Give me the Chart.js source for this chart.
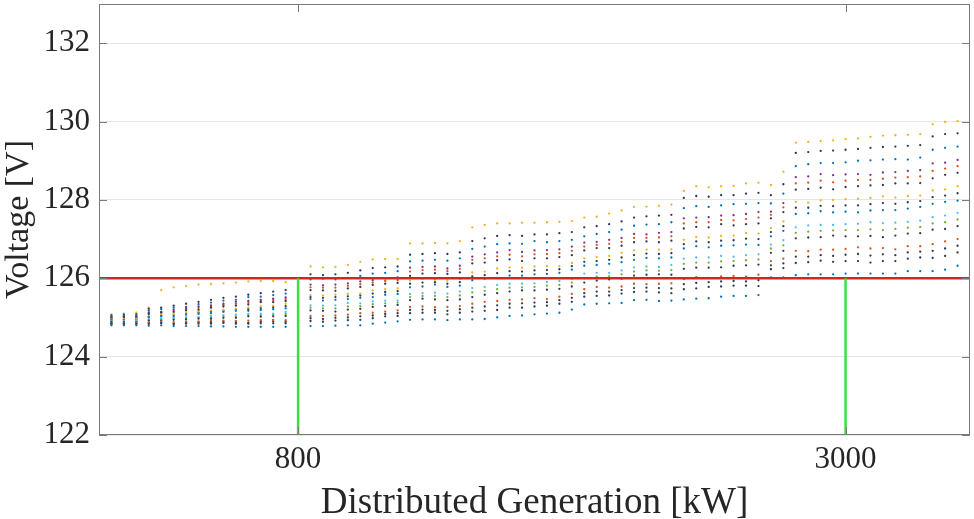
<!DOCTYPE html>
<html>
<head>
<meta charset="utf-8">
<script src="https://cdn.jsdelivr.net/npm/chart.js@4.4.1/dist/chart.umd.min.js"></script>
<style>
  html, body { margin: 0; padding: 0; background: #fff; }
  #chart { display: block; }
</style>
</head>
<body>
<canvas id="chart" width="974" height="519"></canvas>
<script>
// DG size steps (kW)
const genKW = [
  50, 100, 150, 200, 250, 300, 350, 400, 450, 500,
  550, 600, 650, 700, 750, 800, 850, 900, 950, 1000,
  1050, 1100, 1150, 1200, 1250, 1300, 1350, 1400, 1450, 1500,
  1550, 1600, 1650, 1700, 1750, 1800, 1850, 1900, 1950, 2000,
  2050, 2100, 2150, 2200, 2250, 2300, 2350, 2400, 2450, 2500,
  2550, 2600, 2650, 2700, 2750, 2800, 2850, 2900, 2950, 3000,
  3050, 3100, 3150, 3200, 3250, 3300, 3350, 3400, 3450
];

// bus voltages (V), one value per DG step
const bus01 = [
  124.80,124.80,124.80,124.79,124.80,124.78,124.78,124.78,124.77,124.77,
  124.76,124.76,124.76,124.76,124.76,124.77,124.78,124.78,124.79,124.80,
  124.80,124.84,124.87,124.90,124.94,124.95,124.95,124.93,124.95,124.95,
  124.96,125.00,125.04,125.05,125.08,125.10,125.12,125.20,125.33,125.35,
  125.36,125.37,125.44,125.45,125.42,125.43,125.46,125.48,125.49,125.53,
  125.55,125.55,125.57,126.02,126.02,126.08,126.10,126.10,126.10,126.12,
  126.12,126.12,126.12,126.12,126.18,126.18,126.18,126.22,126.32
];
const bus02 = [
  124.83,124.83,124.83,124.83,124.85,124.82,124.84,124.84,124.84,124.86,
  124.84,124.84,124.85,124.85,124.85,124.87,124.91,124.89,124.92,124.93,
  124.94,124.98,125.03,125.04,125.11,125.12,125.12,125.08,125.12,125.15,
  125.17,125.19,125.25,125.25,125.28,125.30,125.35,125.40,125.53,125.55,
  125.56,125.61,125.65,125.66,125.64,125.62,125.72,125.74,125.78,125.79,
  125.81,125.81,125.80,126.23,126.26,126.39,126.41,126.45,126.42,126.44,
  126.44,126.40,126.44,126.44,126.50,126.53,126.52,126.57,126.66
];
const bus03 = [
  124.85,124.85,124.86,124.88,124.89,124.88,124.89,124.90,124.93,124.92,
  124.91,124.92,124.93,124.94,124.93,124.97,125.04,125.04,125.05,125.07,
  125.11,125.12,125.15,125.18,125.27,125.28,125.26,125.27,125.29,125.35,
  125.40,125.42,125.45,125.46,125.49,125.47,125.53,125.60,125.72,125.78,
  125.76,125.79,125.86,125.85,125.86,125.87,125.98,126.03,126.01,126.05,
  126.06,126.04,126.09,126.44,126.50,126.70,126.69,126.73,126.73,126.75,
  126.79,126.76,126.77,126.74,126.82,126.82,126.87,126.94,127.00
];
const bus04 = [
  124.88,124.88,124.88,124.92,124.92,124.94,124.95,124.97,124.97,124.99,
  124.99,125.03,125.02,125.03,125.04,125.06,125.18,125.17,125.15,125.20,
  125.22,125.27,125.29,125.32,125.44,125.48,125.46,125.44,125.46,125.52,
  125.58,125.62,125.66,125.69,125.69,125.71,125.73,125.79,125.89,125.94,
  125.97,125.99,126.07,126.09,126.10,126.09,126.24,126.27,126.27,126.28,
  126.32,126.33,126.35,126.65,126.70,127.02,127.04,127.05,127.09,127.07,
  127.07,127.08,127.05,127.09,127.14,127.15,127.24,127.26,127.33
];
const bus05 = [
  124.90,124.91,124.93,124.96,124.98,124.99,125.01,125.01,125.04,125.06,
  125.07,125.09,125.10,125.10,125.14,125.16,125.31,125.30,125.31,125.37,
  125.36,125.41,125.43,125.43,125.60,125.62,125.63,125.61,125.66,125.75,
  125.78,125.83,125.86,125.86,125.87,125.91,125.93,125.99,126.12,126.14,
  126.14,126.20,126.28,126.30,126.29,126.34,126.50,126.53,126.53,126.57,
  126.55,126.59,126.61,126.86,126.97,127.30,127.35,127.36,127.36,127.38,
  127.39,127.43,127.41,127.42,127.44,127.47,127.56,127.60,127.67
];
const bus06 = [
  124.93,124.94,124.94,125.01,125.03,125.02,125.07,125.09,125.11,125.14,
  125.17,125.17,125.19,125.21,125.23,125.26,125.47,125.43,125.45,125.47,
  125.50,125.52,125.58,125.60,125.77,125.79,125.84,125.78,125.81,125.95,
  125.99,126.01,126.07,126.07,126.10,126.11,126.14,126.22,126.32,126.34,
  126.37,126.41,126.47,126.52,126.51,126.53,126.76,126.82,126.79,126.83,
  126.84,126.86,126.85,127.07,127.21,127.64,127.66,127.71,127.68,127.70,
  127.68,127.73,127.74,127.74,127.78,127.82,127.90,127.95,127.98
];
const bus07 = [
  124.95,124.96,124.97,125.03,125.07,125.09,125.12,125.15,125.18,125.19,
  125.22,125.25,125.28,125.30,125.35,125.36,125.57,125.56,125.58,125.60,
  125.61,125.69,125.72,125.74,125.94,125.99,125.96,125.94,125.98,126.15,
  126.17,126.25,126.28,126.27,126.30,126.31,126.31,126.39,126.51,126.54,
  126.57,126.65,126.71,126.73,126.73,126.74,126.98,127.05,127.04,127.08,
  127.09,127.15,127.14,127.28,127.45,127.95,127.93,127.99,128.00,128.02,
  128.03,128.05,128.09,128.06,128.10,128.11,128.24,128.27,128.35
];
const bus08 = [
  124.98,125.01,125.00,125.09,125.12,125.14,125.18,125.19,125.25,125.28,
  125.30,125.33,125.39,125.39,125.42,125.46,125.70,125.69,125.68,125.74,
  125.78,125.83,125.86,125.88,126.06,126.12,126.13,126.11,126.15,126.38,
  126.40,126.46,126.48,126.44,126.51,126.51,126.54,126.59,126.71,126.77,
  126.77,126.83,126.92,126.94,126.92,126.96,127.27,127.31,127.30,127.38,
  127.35,127.38,127.40,127.53,127.69,128.26,128.28,128.31,128.27,128.33,
  128.35,128.37,128.38,128.42,128.42,128.43,128.55,128.64,128.69
];
const bus09 = [
  125.00,125.02,125.02,125.13,125.14,125.20,125.24,125.28,125.31,125.35,
  125.40,125.42,125.45,125.48,125.51,125.58,125.84,125.82,125.84,125.87,
  125.92,125.95,126.00,126.02,126.27,126.29,126.30,126.25,126.32,126.55,
  126.61,126.66,126.72,126.67,126.71,126.72,126.74,126.81,126.91,126.93,
  126.98,127.03,127.13,127.12,127.16,127.18,127.53,127.55,127.56,127.60,
  127.61,127.64,127.69,127.70,127.92,128.58,128.60,128.66,128.63,128.65,
  128.66,128.64,128.70,128.71,128.74,128.76,128.93,128.95,129.02
];
const bus10 = [
  125.03,125.04,125.05,125.18,125.21,125.25,125.27,125.34,125.38,125.43,
  125.45,125.52,125.53,125.57,125.61,125.65,125.97,125.99,125.97,126.01,
  126.06,126.12,126.14,126.18,126.43,126.45,126.47,126.45,126.51,126.75,
  126.81,126.87,126.89,126.88,126.95,126.92,126.95,126.98,127.07,127.13,
  127.18,127.24,127.34,127.37,127.38,127.43,127.79,127.84,127.82,127.86,
  127.89,127.90,127.92,127.91,128.16,128.86,128.91,128.94,128.94,128.96,
  129.00,129.01,129.03,129.04,129.03,129.08,129.28,129.33,129.36
];
const bus11 = [
  125.05,125.07,125.08,125.22,125.25,125.30,125.35,125.40,125.45,125.50,
  125.53,125.58,125.62,125.66,125.70,125.75,126.10,126.08,126.10,126.14,
  126.20,126.26,126.28,126.30,126.60,126.62,126.64,126.62,126.66,126.95,
  127.02,127.08,127.10,127.08,127.12,127.12,127.15,127.18,127.30,127.33,
  127.38,127.45,127.55,127.58,127.60,127.62,128.05,128.10,128.08,128.12,
  128.12,128.16,128.18,128.12,128.40,129.20,129.22,129.25,129.26,129.28,
  129.30,129.33,129.35,129.36,129.38,129.40,129.62,129.68,129.70
];
const bus12 = [
  125.08,125.10,125.12,125.25,125.70,125.77,125.80,125.84,125.85,125.87,
  125.89,125.92,125.93,125.93,125.90,126.00,126.30,126.28,126.29,126.34,
  126.42,126.48,126.49,126.49,126.89,126.89,126.90,126.89,126.95,127.30,
  127.36,127.40,127.40,127.42,127.42,127.43,127.44,127.46,127.55,127.57,
  127.65,127.73,127.82,127.83,127.85,127.88,128.23,128.35,128.32,128.35,
  128.36,128.42,128.44,128.38,128.72,129.46,129.48,129.50,129.52,129.55,
  129.57,129.61,129.64,129.65,129.66,129.68,129.93,129.99,130.01
];
const bus13 = [
  124.84,124.84,124.85,124.86,124.87,124.85,124.86,124.88,124.88,124.89,
  124.88,124.87,124.89,124.90,124.89,124.92,124.98,124.96,124.99,125.00,
  125.03,125.05,125.09,125.11,125.19,125.20,125.19,125.17,125.21,125.25,
  125.28,125.31,125.35,125.36,125.38,125.39,125.44,125.50,125.62,125.66,
  125.66,125.70,125.75,125.76,125.75,125.74,125.85,125.88,125.90,125.92,
  125.93,125.92,125.95,126.33,126.38,126.55,126.55,126.59,126.57,126.60,
  126.62,126.58,126.61,126.59,126.66,126.68,126.70,126.76,126.83
];
const bus14 = [
  124.89,124.90,124.91,124.94,124.95,124.97,124.98,124.99,125.01,125.03,
  125.03,125.06,125.06,125.07,125.09,125.11,125.25,125.23,125.23,125.28,
  125.29,125.34,125.36,125.38,125.52,125.55,125.55,125.52,125.56,125.64,
  125.68,125.72,125.76,125.77,125.78,125.81,125.83,125.89,126.00,126.04,
  126.05,126.10,126.17,126.20,126.19,126.21,126.37,126.40,126.40,126.43,
  126.44,126.46,126.48,126.76,126.84,127.16,127.19,127.21,127.22,127.23,
  127.23,127.25,127.23,127.26,127.29,127.31,127.40,127.43,127.50
];
const bus15 = [
  124.94,124.95,124.96,125.02,125.05,125.06,125.10,125.12,125.15,125.17,
  125.20,125.21,125.24,125.26,125.29,125.31,125.52,125.50,125.52,125.54,
  125.56,125.61,125.65,125.67,125.86,125.89,125.90,125.86,125.90,126.05,
  126.08,126.13,126.18,126.17,126.20,126.21,126.23,126.31,126.42,126.44,
  126.47,126.53,126.59,126.63,126.62,126.64,126.87,126.94,126.92,126.96,
  126.97,127.01,127.00,127.18,127.33,127.80,127.80,127.85,127.84,127.86,
  127.86,127.89,127.92,127.90,127.94,127.97,128.07,128.11,128.17
];
const bus16 = [
  124.99,125.02,125.01,125.11,125.13,125.17,125.21,125.24,125.28,125.32,
  125.35,125.38,125.42,125.44,125.47,125.52,125.77,125.76,125.76,125.81,
  125.85,125.89,125.93,125.95,126.17,126.21,126.22,126.18,126.24,126.47,
  126.51,126.56,126.60,126.56,126.61,126.62,126.64,126.70,126.81,126.85,
  126.88,126.93,127.03,127.03,127.04,127.07,127.40,127.43,127.43,127.49,
  127.48,127.51,127.55,127.62,127.81,128.42,128.44,128.49,128.45,128.49,
  128.51,128.51,128.54,128.57,128.58,128.60,128.74,128.80,128.86
];

const voltLimit = 126;          // red limit line
const markKW = [800, 3000];     // green markers
const xRange = [0, 3500];
const yRange = [122, 133];
const xTicks = [800, 3000];
const yTicks = [122, 124, 126, 128, 130, 132];

const buses = [bus01, bus02, bus03, bus04, bus05, bus06, bus07, bus08,
               bus09, bus10, bus11, bus12, bus13, bus14, bus15, bus16];
const navy = '#2E3A4F';
const busColors = ['#0072BD', navy, '#D95319', navy, '#4DBEEE', '#0072BD', '#EDB120', navy,
                   '#7E2F8E', '#0072BD', navy, '#EDB120', navy, '#77AC30', navy, '#D95319'];

const serif = "'Liberation Serif', 'DejaVu Serif', serif";
const textColor = '#262626';

const datasets = buses.map((b, k) => ({
  data: genKW.map((x, i) => ({ x: x, y: b[i] })),
  pointRadius: 1.15,
  pointBorderWidth: 0,
  pointBackgroundColor: busColors[k],
  showLine: false
}));

datasets.push({
  data: [{ x: xRange[0], y: voltLimit }, { x: xRange[1], y: voltLimit }],
  showLine: true,
  borderColor: '#D42424',
  borderWidth: 2.5,
  pointRadius: 0,
  order: -1
});
markKW.forEach(m => {
  datasets.push({
    data: [{ x: m, y: yRange[0] }, { x: m, y: voltLimit }],
    showLine: true,
    borderColor: '#3BE03B',
    borderWidth: 2.5,
    pointRadius: 0,
    order: -2
  });
});

// box + inward tick marks, matlab style
const frame = {
  id: 'frame',
  afterDatasetsDraw(chart) {
    const { ctx, chartArea: a, scales } = chart;
    ctx.save();
    ctx.strokeStyle = '#7a7a7a';
    ctx.lineWidth = 1;
    ctx.strokeRect(a.left + 0.5, a.top + 0.5, a.width - 1, a.height - 1);
    ctx.beginPath();
    xTicks.forEach(v => {
      const px = Math.round(scales.x.getPixelForValue(v)) + 0.5;
      ctx.moveTo(px, a.bottom); ctx.lineTo(px, a.bottom - 8);
      ctx.moveTo(px, a.top); ctx.lineTo(px, a.top + 8);
    });
    yTicks.forEach(v => {
      const py = Math.round(scales.y.getPixelForValue(v)) + 0.5;
      ctx.moveTo(a.left, py); ctx.lineTo(a.left + 8, py);
      ctx.moveTo(a.right, py); ctx.lineTo(a.right - 8, py);
    });
    ctx.stroke();
    ctx.restore();
  }
};

new Chart(document.getElementById('chart'), {
  type: 'scatter',
  data: { datasets: datasets },
  plugins: [frame],
  options: {
    responsive: false,
    animation: false,
    layout: { padding: { top: 2, right: 0, left: 0, bottom: 0 } },
    plugins: { legend: { display: false }, tooltip: { enabled: false } },
    scales: {
      x: {
        type: 'linear',
        min: xRange[0],
        max: xRange[1],
        afterBuildTicks: axis => { axis.ticks = xTicks.map(v => ({ value: v })); },
        afterFit: axis => {
          axis.height = 84;
          axis.paddingLeft = 0;
          axis.paddingRight = 0;
        },
        grid: { display: false, drawTicks: false },
        border: { display: false },
        ticks: {
          color: textColor,
          padding: 6,
          font: { family: serif, size: 31 },
          callback: v => String(v)
        },
        title: {
          display: true,
          text: 'Distributed Generation [kW]',
          color: textColor,
          padding: 0,
          font: { family: serif, size: 37, lineHeight: 0.84 }
        }
      },
      y: {
        min: yRange[0],
        max: yRange[1],
        afterBuildTicks: axis => { axis.ticks = yTicks.map(v => ({ value: v })); },
        afterFit: axis => {
          axis.width = 99;
          axis.paddingTop = 0;
          axis.paddingBottom = 0;
        },
        grid: { color: '#e6e6e6', drawTicks: false },
        border: { display: false },
        ticks: {
          color: textColor,
          padding: 9,
          font: { family: serif, size: 31 },
          callback: v => String(v)
        },
        title: {
          display: true,
          text: 'Voltage [V]',
          color: textColor,
          padding: 0,
          font: { family: serif, size: 34, lineHeight: 1.1 }
        }
      }
    }
  }
});
</script>
</body>
</html>
